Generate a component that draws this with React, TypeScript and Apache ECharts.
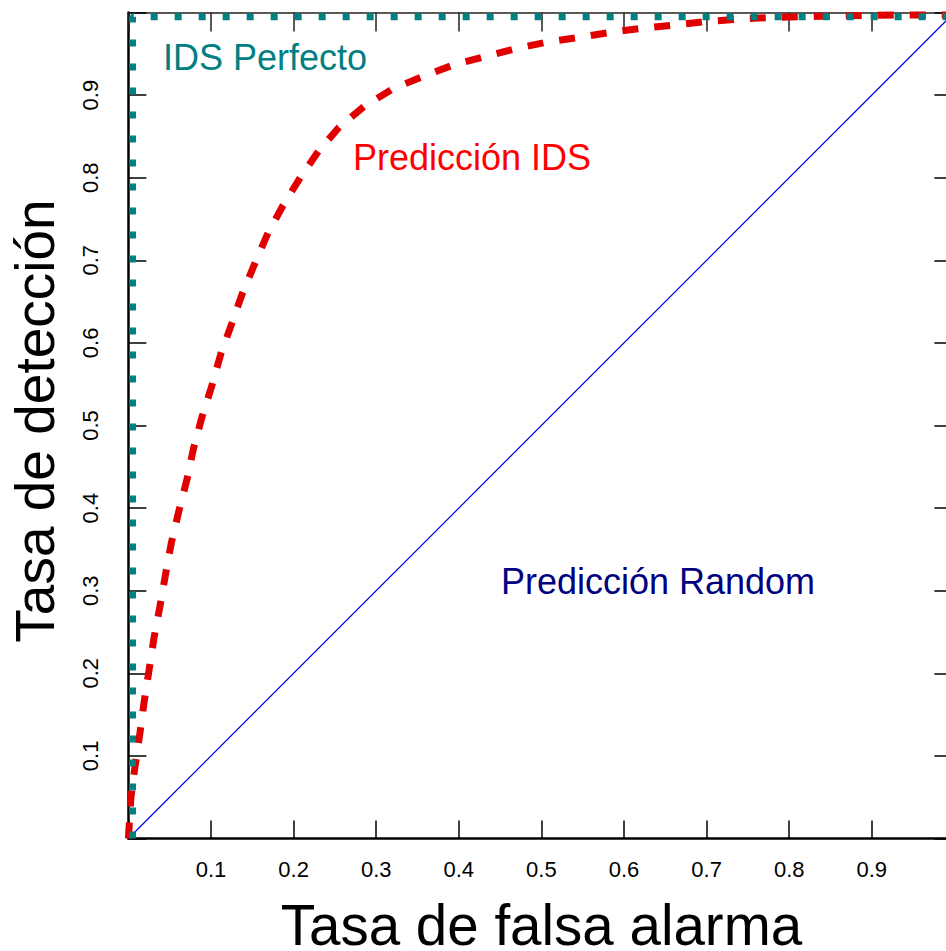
import React, { useEffect, useRef } from "react";
import * as echarts from "echarts";

// False alarm rate (x) and detection rate (y) for the IDS prediction curve
const idsFpr = [0, 0.003, 0.008, 0.014, 0.019, 0.025, 0.031, 0.038, 0.045, 0.052, 0.061, 0.071, 0.079, 0.089, 0.101, 0.112, 0.125, 0.138, 0.153, 0.169, 0.187, 0.208, 0.23, 0.255, 0.285, 0.319, 0.355, 0.392, 0.429, 0.468, 0.506, 0.546, 0.584, 0.623, 0.662, 0.7, 0.74, 0.779, 0.861, 0.93, 1.0];
const idsTpr = [0, 0.049, 0.087, 0.128, 0.165, 0.204, 0.243, 0.28, 0.32, 0.358, 0.396, 0.435, 0.473, 0.51, 0.548, 0.587, 0.623, 0.66, 0.696, 0.733, 0.766, 0.8, 0.832, 0.861, 0.886, 0.907, 0.922, 0.936, 0.946, 0.956, 0.964, 0.97, 0.976, 0.981, 0.985, 0.989, 0.992, 0.994, 0.996, 0.997, 0.997];

// Perfect IDS
const perfectFpr = [0.005, 0.005, 1];
const perfectTpr = [0, 0.995, 0.995];

// Random prediction
const randomFpr = [0, 1];
const randomTpr = [0, 1];

const tickValues = [0.1, 0.2, 0.3, 0.4, 0.5, 0.6, 0.7, 0.8, 0.9];

const xTitle = "Tasa de falsa alarma";
const yTitle = "Tasa de detección";
const labelPerfect = "IDS Perfecto";
const labelIds = "Predicción IDS";
const labelRandom = "Predicción Random";

const FONT = '"Liberation Sans", Arial, Helvetica, sans-serif';

const zip = (xs: number[], ys: number[]) => xs.map((x, i) => [x, ys[i]]);

const fmt = (v: number) => {
  const r = Math.round(v * 10) / 10;
  return tickValues.some((t) => Math.abs(t - r) < 1e-9) ? r.toFixed(1) : "";
};

export default function App() {
  const ref = useRef<HTMLDivElement>(null);

  useEffect(() => {
    if (!ref.current) return;
    const chart = echarts.init(ref.current, undefined, { renderer: "svg" });
    const axisCommon = {
      type: "value" as const,
      min: 0,
      max: 1,
      interval: 0.1,
      splitLine: { show: false },
    };
    chart.setOption({
      animation: false,
      backgroundColor: "#ffffff",
      grid: {
        left: 128.4,
        top: 12.5,
        width: 826,
        height: 826,
        containLabel: false,
        outerBoundsMode: "none",
      },
      xAxis: [
        {
          ...axisCommon,
          position: "bottom",
          axisLine: { show: true, onZero: false, lineStyle: { color: "#000", width: 2.5 } },
          axisTick: { show: true, inside: true, length: 18, lineStyle: { color: "#000", width: 1.5 } },
          axisLabel: {
            show: true,
            formatter: fmt,
            fontSize: 22,
            color: "#000",
            fontFamily: FONT,
            margin: 20,
          },
        },
        {
          ...axisCommon,
          position: "top",
          axisLine: { show: true, onZero: false, lineStyle: { color: "#222", width: 1.5 } },
          axisTick: { show: true, inside: true, length: 19, lineStyle: { color: "#222", width: 1.5 } },
          axisLabel: { show: false },
        },
      ],
      yAxis: [
        {
          ...axisCommon,
          position: "left",
          axisLine: { show: true, onZero: false, lineStyle: { color: "#000", width: 2.5 } },
          axisTick: { show: true, inside: true, length: 18, lineStyle: { color: "#000", width: 1.5 } },
          axisLabel: {
            show: true,
            formatter: fmt,
            rotate: 90,
            fontSize: 22,
            color: "#000",
            fontFamily: FONT,
            margin: 27,
          },
        },
        {
          ...axisCommon,
          position: "right",
          axisLine: { show: true, onZero: false, lineStyle: { color: "#000", width: 1.5 } },
          axisTick: { show: true, inside: true, length: 20, lineStyle: { color: "#000", width: 1.5 } },
          axisLabel: { show: false },
        },
      ],
      series: [
        {
          type: "line",
          name: labelRandom,
          data: zip(randomFpr, randomTpr),
          showSymbol: false,
          symbol: "none",
          clip: false,
          lineStyle: { color: "#0000ee", width: 1.2 },
          z: 2,
        },
        {
          type: "line",
          name: labelIds,
          data: zip(idsFpr, idsTpr),
          showSymbol: false,
          symbol: "none",
          clip: false,
          smooth: false,
          lineStyle: { color: "#e00000", width: 7, type: [16, 16], cap: "butt" },
          z: 3,
        },
        {
          type: "line",
          name: labelPerfect,
          data: zip(perfectFpr, perfectTpr),
          showSymbol: false,
          symbol: "none",
          clip: false,
          lineStyle: { color: "#008080", width: 7, type: [7, 17], cap: "butt" },
          z: 4,
        },
      ],
      graphic: [
        {
          type: "text",
          x: 541.5,
          y: 925,
          style: {
            text: xTitle,
            fill: "#000",
            fontSize: 56.5,
            lineHeight: 46,
            fontFamily: FONT,
            align: "center",
            verticalAlign: "middle",
          },
        },
        {
          type: "text",
          x: 35,
          y: 421,
          rotation: Math.PI / 2,
          style: {
            text: yTitle,
            fill: "#000",
            fontSize: 55,
            fontFamily: FONT,
            align: "center",
            verticalAlign: "middle",
          },
        },
        {
          type: "text",
          x: 265,
          y: 57,
          style: {
            text: labelPerfect,
            fill: "#008080",
            fontSize: 36,
            fontFamily: FONT,
            align: "center",
            verticalAlign: "middle",
          },
        },
        {
          type: "text",
          x: 472,
          y: 157,
          style: {
            text: labelIds,
            fill: "#ff0000",
            fontSize: 36,
            fontFamily: FONT,
            align: "center",
            verticalAlign: "middle",
          },
        },
        {
          type: "text",
          x: 658,
          y: 581,
          style: {
            text: labelRandom,
            fill: "#000080",
            fontSize: 36,
            fontFamily: FONT,
            align: "center",
            verticalAlign: "middle",
          },
        },
      ],
    });
    return () => chart.dispose();
  }, []);

  return (
    <div
      ref={ref}
      style={{ position: "fixed", left: 0, top: 0, width: 960, height: 951 }}
    />
  );
}
